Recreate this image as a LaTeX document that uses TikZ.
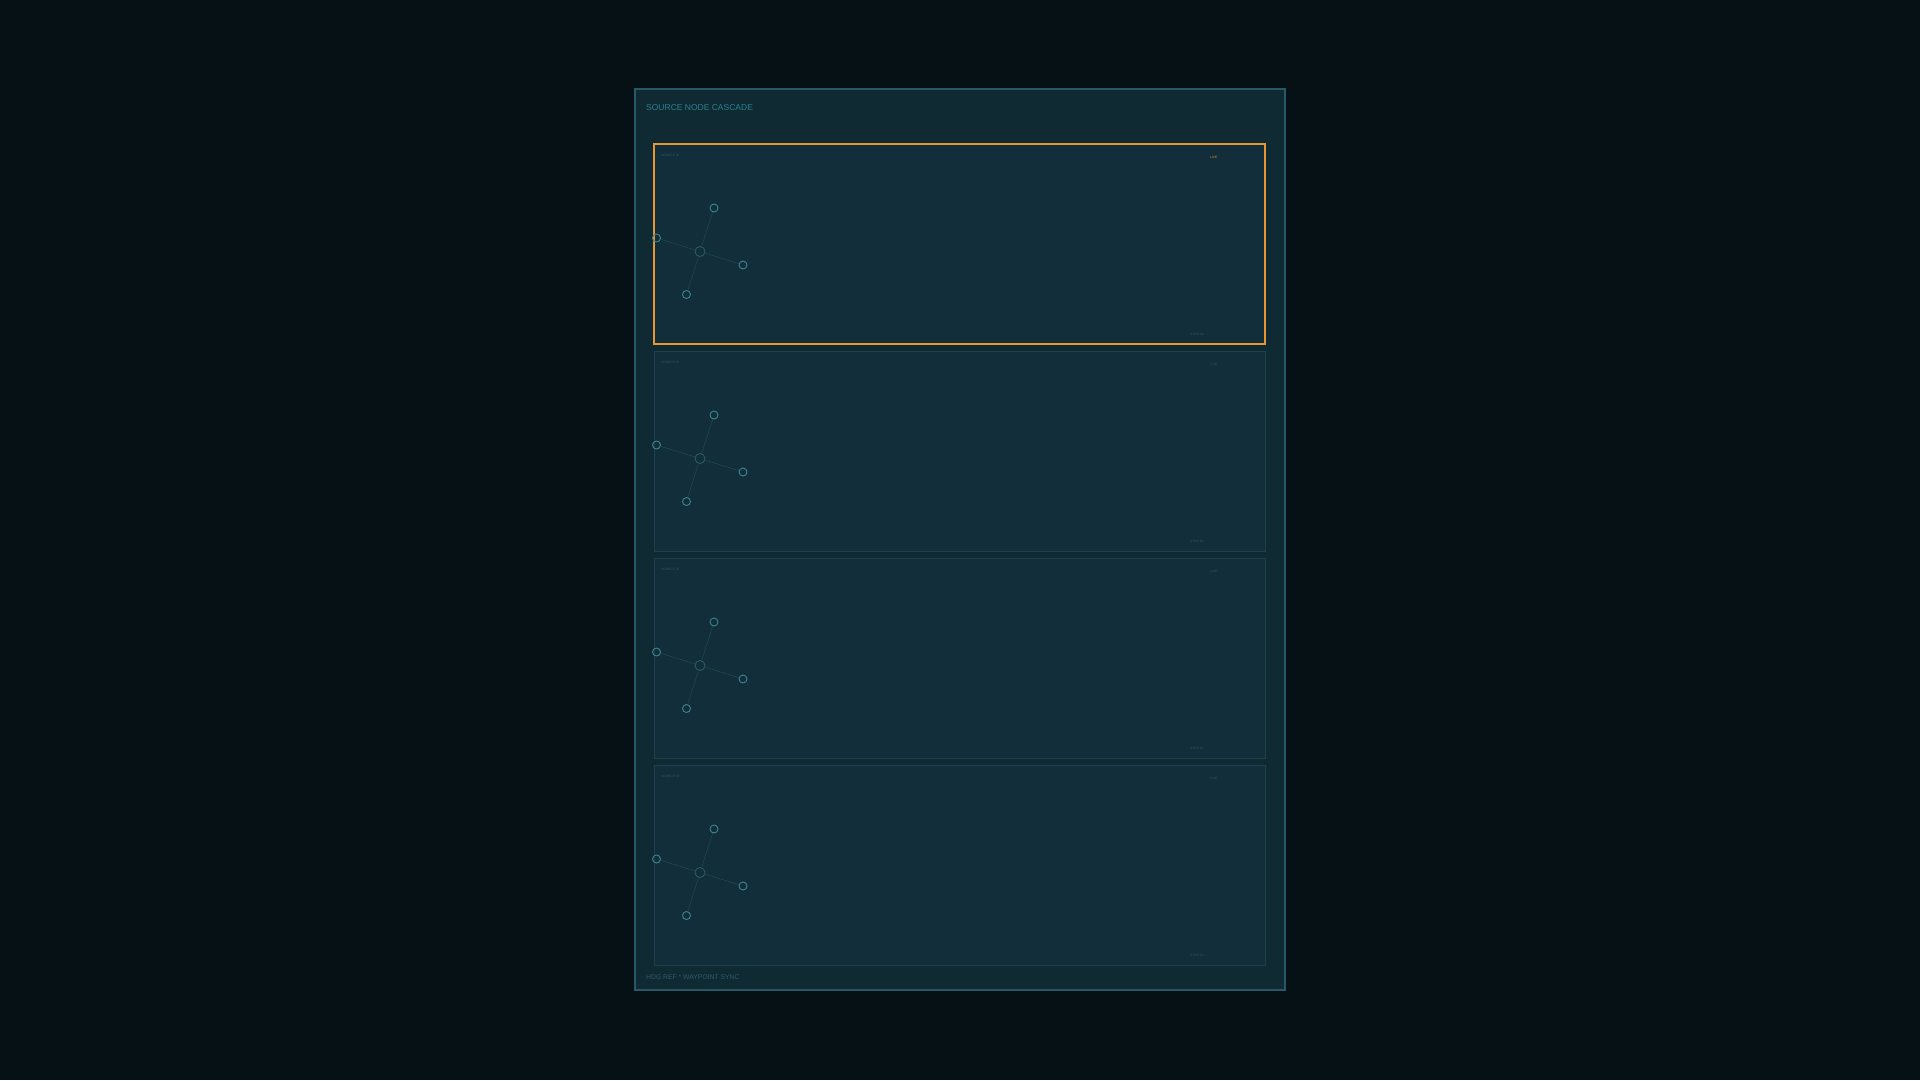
\documentclass[tikz,border=0pt]{standalone}
\usepackage{fontspec}
\setmainfont{Liberation Sans}
\usetikzlibrary{positioning}
\definecolor{bgdark}{RGB}{6,17,21}
\definecolor{panelfill}{RGB}{16,42,52}
\definecolor{cardfill}{RGB}{17,46,58}
\definecolor{panelline}{RGB}{40,88,100}
\definecolor{cardline}{RGB}{30,64,76}
\definecolor{hotorange}{RGB}{232,150,52}
\definecolor{tealtext}{RGB}{42,128,142}
\definecolor{dimtext}{RGB}{44,92,104}
\definecolor{nodeteal}{RGB}{62,132,146}
\definecolor{linkteal}{RGB}{33,74,86}

\begin{document}
\begin{tikzpicture}[x=1pt,y=-1pt,
    dot/.style={circle, draw=nodeteal, line width=0.9pt, minimum size=8pt, inner sep=0pt},
    hub/.style={dot, minimum size=10pt, draw=linkteal!70!nodeteal},
    link/.style={draw=linkteal, line width=0.5pt},
    tag/.style={font=\fontsize{3.2}{3}\selectfont, inner sep=0pt},
    label/.style={text=tealtext, inner sep=0pt, anchor=west}]
    % Background
    \fill[bgdark] (0,0) rectangle (1920,1080);
    \useasboundingbox (0,0) rectangle (1920,1080);

    % Outer panel
    \draw[panelline, fill=panelfill, line width=1.2pt] (635,89) rectangle (1285,990);
    \node[label, font=\fontsize{8.5}{10}\selectfont] (title) at (646,108) {SOURCE NODE CASCADE};
    \node[label, font=\fontsize{6.8}{8}\selectfont, text=dimtext] (footer) at (646,977) {HDG REF * WAYPOINT SYNC};

    % Cards
    \foreach \i/\edge/\lw/\tagc in {0/hotorange/1.2pt/hotorange, 1/cardline/0.8pt/dimtext, 2/cardline/0.8pt/dimtext, 3/cardline/0.8pt/dimtext} {
        \begin{scope}[shift={(654,{144+207*\i})}]
            \draw[\edge, fill=cardfill, line width=\lw] (0,0) rectangle (611,200);
            \node[tag, text=dimtext, anchor=west] (name\i) at (7,11.5) {SOURCE 0\i};
            \node[tag, text=\tagc, anchor=west] (state\i) at (556,13) {LIVE};
            \node[tag, text=dimtext, anchor=west] (sync\i) at (536,190) {SYNC 0\i};

            % Node star
            \node[hub] (hub\i) at (46,107.5) {};
            \node[dot] (top\i) at (60,64) {};
            \node[dot] (left\i) at (2.5,94) {};
            \node[dot] (right\i) at (89,121) {};
            \node[dot] (bottom\i) at (32.5,150.5) {};
            \draw[link] (hub\i) -- (top\i);
            \draw[link] (hub\i) -- (left\i);
            \draw[link] (hub\i) -- (right\i);
            \draw[link] (hub\i) -- (bottom\i);
        \end{scope}
    }
\end{tikzpicture}
\end{document}
